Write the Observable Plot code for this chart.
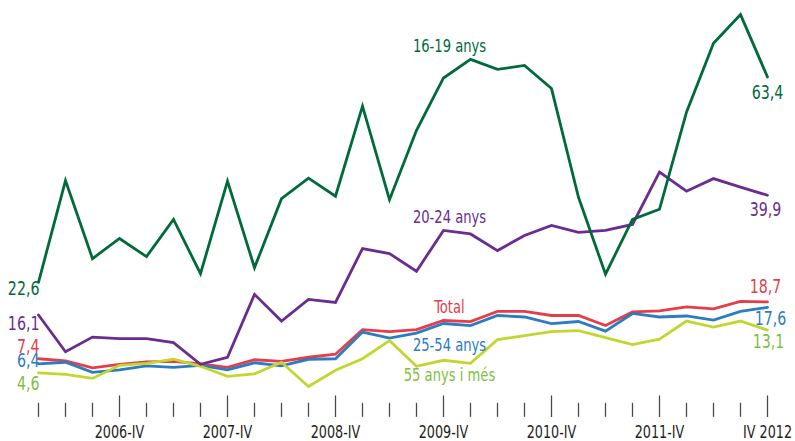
<!DOCTYPE html>
<html><head><meta charset="utf-8">
<script src="https://cdn.jsdelivr.net/npm/d3@7"></script>
<script src="https://cdn.jsdelivr.net/npm/@observablehq/plot@0.6"></script>
<style>body{margin:0;background:#fff}</style>
</head><body><div id="chart"></div>
<script>
const quarters = ["2006-I","2006-II","2006-III","2006-IV","2007-I","2007-II","2007-III","2007-IV",
  "2008-I","2008-II","2008-III","2008-IV","2009-I","2009-II","2009-III","2009-IV",
  "2010-I","2010-II","2010-III","2010-IV","2011-I","2011-II","2011-III","2011-IV",
  "2012-I","2012-II","2012-III","2012-IV"];
const s1619 = [22.6,42.8,27.3,31.3,27.7,35.1,24.3,42.7,25.5,39.2,43.3,39.7,57.6,39.0,52.8,63.2,66.9,64.9,65.7,61.1,39.5,24.2,35.1,37.1,56.4,70.1,75.8,63.4];
const s2024 = [16.1,8.8,11.7,11.4,11.4,10.6,6.3,7.7,20.2,14.9,19.2,18.6,29.3,28.3,24.8,32.9,32.2,28.9,31.9,33.9,32.5,32.9,34.1,44.5,40.7,43.2,41.5,39.9];
const sTotal = [7.4,7.0,5.6,6.3,6.8,6.9,6.4,5.7,7.2,6.9,7.7,8.3,13.2,12.8,13.2,15.0,14.8,16.8,16.8,16.0,16.0,14.0,16.7,16.9,17.7,17.3,18.8,18.7];
const s2554 = [6.4,6.7,4.7,5.2,6.0,5.7,6.1,5.2,6.6,6.0,7.3,7.4,12.7,11.5,12.5,14.4,14.0,16.0,15.7,14.4,14.8,12.9,16.4,15.7,15.9,15.1,16.8,17.6];
const s55 = [4.6,4.3,3.5,6.1,6.5,7.3,5.9,3.9,4.4,6.7,1.9,5.1,7.4,11.0,5.9,7.1,6.5,11.2,12.0,12.8,13.0,11.6,10.2,11.3,14.9,13.7,14.9,13.1];

const tickQuarters = ["2006-IV","2007-IV","2008-IV","2009-IV","2010-IV","2011-IV","2012-IV"];
const tickLabels = ["2006-IV","2007-IV","2008-IV","2009-IV","2010-IV","2011-IV","IV 2012"];

const seriesNames = ["Total","25-54 anys","55 anys i més","20-24 anys","16-19 anys"];
const seriesValues = [sTotal, s2554, s55, s2024, s1619];
const lineColors = ["#e63d48","#2c7cc1","#c3d62f","#6a2d8f","#006b3a"];
const textColors = ["#e63d48","#2c7cc1","#7fbf42","#6a2d8f","#006b3a"];

// label positions (data space) for series names
const nameLabelQuarter = ["2009-IV","2009-IV","2009-IV","2009-IV","2009-IV"];
const nameLabelValue = [17.6, 10.1, 4.2, 35.5, 69.5];
// pixel nudges for endpoint labels
const startDy = [-12.5, -3, 11, 8.5, 6];
const endDx = [-2, 3, 1, -2, 0];
const endDy = [-15, 11, 12, 14.5, 15.5];

const rows = seriesNames.flatMap((s, k) => seriesValues[k].map((v, i) => ({q: quarters[i], v, s})));
const fmt = v => d3.format(".1f")(v).replace(".", ",");
const startLabels = seriesNames.map((s, k) => ({s, q: quarters[0], v: seriesValues[k][0], dy: startDy[k], c: textColors[k]}));
const endLabels = seriesNames.map((s, k) => ({s, q: quarters[quarters.length-1], v: seriesValues[k][quarters.length-1], dx: endDx[k], dy: endDy[k], c: textColors[k]}));
const nameLabels = seriesNames.map((s, k) => ({s, q: nameLabelQuarter[k], v: nameLabelValue[k], c: textColors[k]}));
const minorTicks = quarters.filter(q => !tickQuarters.includes(q));

const FONT = "'DejaVu Sans Condensed','Liberation Sans Narrow','DejaVu Sans',sans-serif";

const marks = [
  Plot.axisX(minorTicks, {tickSize: 14, dy: 7.3, tickFormat: () => "", stroke: "#4a4a4a", strokeWidth: 1.3, label: null}),
  Plot.axisX(tickQuarters, {tickSize: 21.5, tickPadding: 8, tickFormat: d => tickLabels[tickQuarters.indexOf(d)], stroke: "#4a4a4a", strokeWidth: 1.3, fill: "#231f20", fontSize: 17.5, label: null}),
  Plot.line(rows, {x: "q", y: "v", z: "s", stroke: "s", strokeWidth: 2.8, strokeLinejoin: "miter", strokeMiterlimit: 6}),
];
startLabels.forEach(d => marks.push(Plot.text([d], {x: "q", y: "v", text: e => fmt(e.v), textAnchor: "end", dx: 1, dy: d.dy, fill: d.c, fontSize: 19.5, lineAnchor: "middle"})));
endLabels.forEach(d => marks.push(Plot.text([d], {x: "q", y: "v", text: e => fmt(e.v), textAnchor: "middle", dx: d.dx, dy: d.dy, fill: d.c, fontSize: 19.5, lineAnchor: "middle"})));
nameLabels.forEach(d => marks.push(Plot.text([d], {x: "q", y: "v", text: "s", textAnchor: "middle", dx: 6, fill: d.c, fontSize: 18, lineAnchor: "middle"})));

const chart = Plot.plot({
  width: 795, height: 441,
  marginLeft: 37.7, marginRight: 28.3, marginTop: 3, marginBottom: 45.5,
  x: {type: "point", domain: quarters, padding: 0},
  y: {domain: [0, 78], axis: null},
  color: {domain: seriesNames, range: lineColors},
  style: {fontFamily: FONT, background: "#fff", color: "#231f20", overflow: "visible"},
  marks
});
document.getElementById("chart").appendChild(chart);
// condense glyphs horizontally to mimic the condensed typeface of the original
chart.querySelectorAll("text").forEach(t => {
  const w = t.getComputedTextLength();
  if (w > 0) {
    t.setAttribute("textLength", (w * 0.81).toFixed(2));
    t.setAttribute("lengthAdjust", "spacingAndGlyphs");
  }
});
</script>
</body></html>
